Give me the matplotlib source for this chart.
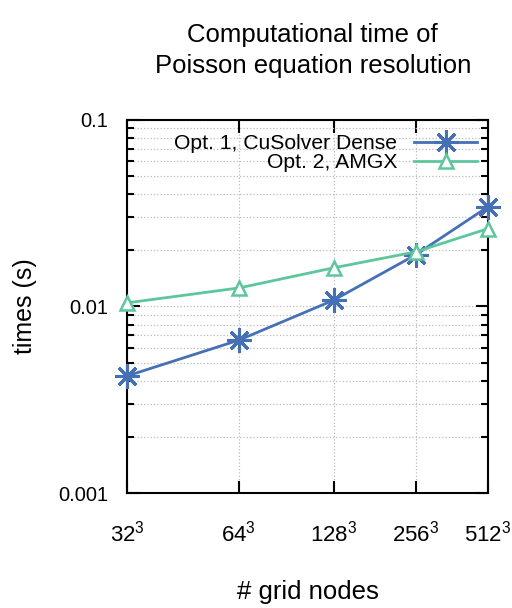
import matplotlib
matplotlib.use("Agg")
import matplotlib.pyplot as plt
from matplotlib.ticker import LogLocator, NullFormatter, FixedLocator

exponents = [5, 6, 7, 8, 9]
tick_labels = [r"$32^3$", r"$64^3$", r"$128^3$", r"$256^3$", r"$512^3$"]
cusolver = [0.00424, 0.0066, 0.0108, 0.0189, 0.0342]
amgx = [0.01045, 0.01256, 0.0161, 0.0196, 0.0261]

plt.rcParams['font.family'] = ['Liberation Sans', 'DejaVu Sans']
plt.rcParams['mathtext.fontset'] = 'custom'
plt.rcParams['mathtext.rm'] = 'Liberation Sans'
plt.rcParams['mathtext.it'] = 'Liberation Sans'
fig = plt.figure(figsize=(5.12, 6.08), dpi=100)
ax = fig.add_axes([0.248, 0.189, 0.705, 0.614])

blue = '#4670b5'
green = '#5ec69c'
ax.plot(exponents, cusolver, color=blue, lw=2, marker=(8, 2, 0), ms=17.5, mew=2.2,
        label='Opt. 1, CuSolver Dense', clip_on=False, zorder=3)
ax.plot(exponents, amgx, color=green, lw=2, marker='^', ms=10.5, mfc='white', mec=green, mew=1.8,
        label='Opt. 2, AMGX', clip_on=False, zorder=3)

ax.set_xscale('log')
ax.set_yscale('log')
ax.set_xlim(5, 9)
ax.set_ylim(0.001, 0.1)
ax.xaxis.set_major_locator(FixedLocator(exponents))
ax.xaxis.set_minor_locator(FixedLocator([]))
ax.set_xticklabels(tick_labels)
ax.xaxis.set_minor_formatter(NullFormatter())
ax.yaxis.set_major_locator(FixedLocator([0.001, 0.01, 0.1]))
ax.set_yticklabels(['0.001', '0.01', '0.1'])
ax.yaxis.set_minor_locator(LogLocator(base=10, subs=range(2, 10)))
ax.yaxis.set_minor_formatter(NullFormatter())

ax.tick_params(which='both', direction='in', top=True, right=True, width=1.5)
ax.tick_params(axis='x', labelsize=16, pad=20)
ax.tick_params(axis='y', labelsize=14.5, pad=13.7)
ax.tick_params(which='major', length=9)
ax.tick_params(which='minor', length=5)
for s in ax.spines.values():
    s.set_linewidth(1.5)
ax.grid(True, which='both', color='#bbbbbb', ls=':', lw=0.9)

ax.set_ylabel('times (s)', fontsize=18, labelpad=15)
ax.set_xlabel('# grid nodes', fontsize=18.5, labelpad=24)
ax.set_title('Computational time of\nPoisson equation resolution', fontsize=18.5, pad=34,
             linespacing=1.35, x=0.515)

leg = ax.legend(loc='upper right', frameon=False, fontsize=15.2, markerfirst=False,
                handlelength=3.0, borderaxespad=0.1, labelspacing=0.0, handletextpad=0.8,
                bbox_to_anchor=(1.0, 0.99))
for t in leg.get_texts():
    t.set_ha('right')
leg._legend_box.align = 'right'

fig.savefig('out.png', dpi=100)
